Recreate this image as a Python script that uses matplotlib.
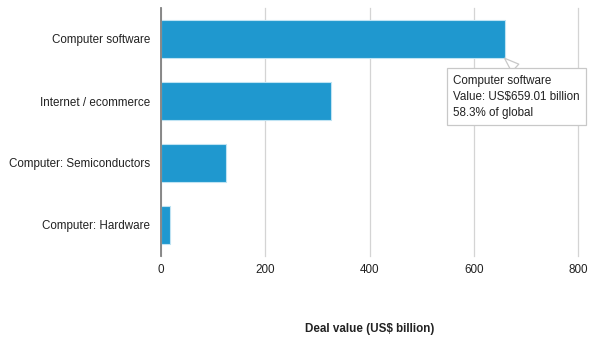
import matplotlib.pyplot as plt

plt.rcParams['font.family'] = ['Liberation Sans', 'DejaVu Sans']

# Deal value by sector (US$ billion)
sectors = ['Computer software', 'Internet / ecommerce',
           'Computer: Semiconductors', 'Computer: Hardware']
values = [659.01, 326, 125, 17]
xticks = [0, 200, 400, 600, 800]

# tooltip for the highlighted bar
tip_sector = 'Computer software'
tip_value = 659.01
tip_share = 58.3

bar_color = '#1f98cf'

fig = plt.figure(figsize=(5.89, 3.39), dpi=100)
ax = fig.add_axes([161 / 589, 1 - 256 / 339, 417 / 589, 248 / 339])

ypos = list(range(len(sectors)))
ax.barh(ypos, values, height=0.62, color=bar_color,
        edgecolor='#bfe3f3', linewidth=0.8, zorder=3)

ax.set_ylim(len(sectors) - 0.5, -0.5)
ax.set_yticks(ypos)
ax.set_yticklabels(sectors, fontsize=8.4, color='#222222')
ax.set_xlim(0, 800)
ax.set_xticks(xticks)
ax.set_xticklabels([str(t) for t in xticks], fontsize=8.4, color='#222222')
ax.tick_params(length=0)
ax.tick_params(axis='y', pad=8)
ax.tick_params(axis='x', pad=6)

ax.grid(axis='x', color='#d4d4d4', linewidth=0.9, zorder=0)
for gl in ax.get_xgridlines():
    gl.set_clip_on(False)
for s in ['top', 'right', 'bottom']:
    ax.spines[s].set_visible(False)
ax.spines['left'].set_color('#808080')
ax.spines['left'].set_linewidth(1.3)
ax.spines['left'].set_zorder(4)

fig.text(369.5 / 589, 1 - 329 / 339, 'Deal value (US$ billion)',
         fontsize=8.4, fontweight='bold', ha='center', va='center',
         color='#222222')

# tooltip
i = sectors.index(tip_sector)
ax.annotate(f'{tip_sector}\nValue: US${tip_value:.2f} billion\n{tip_share}% of global',
            xy=(tip_value, i + 0.31), xycoords='data',
            xytext=(-37, -12), textcoords='offset points',
            ha='left', va='top', fontsize=8.4, color='#222222',
            linespacing=1.45, annotation_clip=False, zorder=6,
            bbox=dict(boxstyle='square,pad=0.55', fc='white', ec='#c8c8c8', lw=0.9),
            arrowprops=dict(arrowstyle='wedge,tail_width=0.9,shrink_factor=0.5',
                            fc='white', ec='#c8c8c8', lw=0.9,
                            relpos=(0.55, 1.0), shrinkA=0, shrinkB=0))

fig.savefig('out.png', dpi=100)
